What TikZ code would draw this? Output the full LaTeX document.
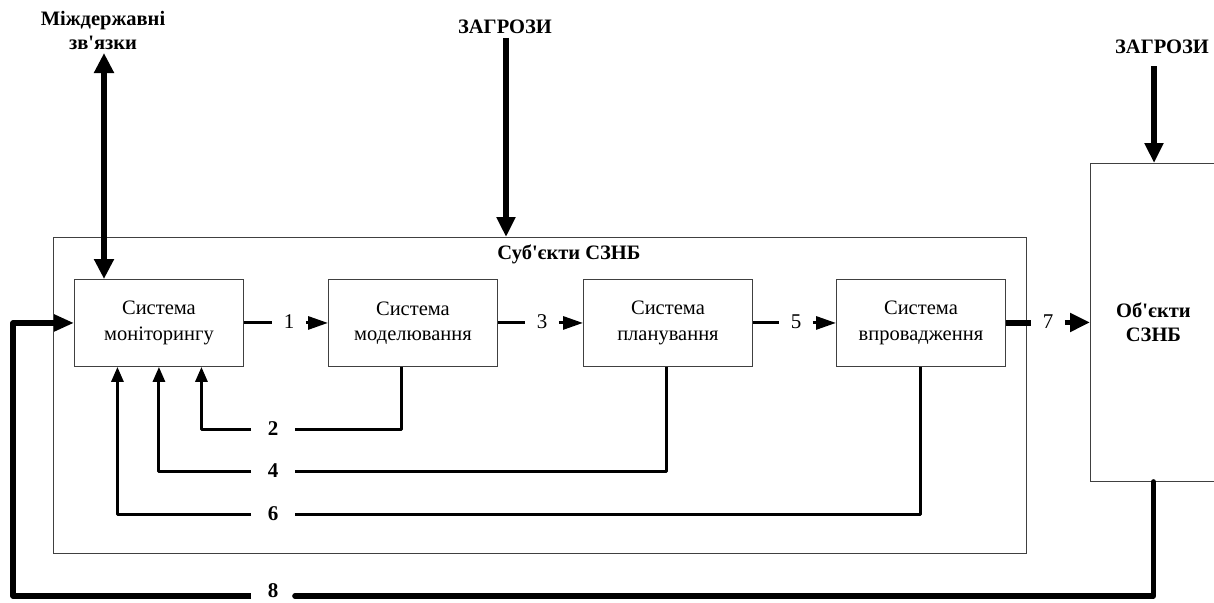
\documentclass[tikz,border=0pt]{standalone}
\usepackage{fontspec}
\setmainfont{Liberation Serif}[Ligatures=TeXOff]
\usetikzlibrary{arrows.meta}
\begin{document}
\begin{tikzpicture}[x=1pt,y=-1pt,
  box/.style={draw=black!75, line width=0.9pt, minimum width=169pt, minimum height=87pt, inner sep=0pt, align=center, font=\fontsize{20.5}{25.5}\selectfont},
  frame/.style={draw=black!75, line width=0.9pt, inner sep=0pt},
  title/.style={font=\fontsize{20.5}{24}\selectfont\bfseries, align=center, inner sep=0pt},
  numlbl/.style={font=\fontsize{21}{24}\selectfont, inner ysep=0pt, inner xsep=11.5pt},
  fblbl/.style={font=\fontsize{21}{24}\selectfont\bfseries, inner ysep=0pt, inner xsep=16.5pt},
  conn/.style={line width=3pt},
  thickc/.style={line width=5.5pt},
  tipA/.style={-{Triangle[length=20pt,width=13pt]}},
  tipB/.style={-{Triangle[length=20pt,width=18pt]}},
  tipC/.style={-{Triangle[length=15pt,width=12pt]}},
  tipE/.style={-{Triangle[length=20pt,width=16pt]}},
]
\useasboundingbox (0,0) rectangle (1214,602);

% outer frame
\node[frame, minimum width=973pt, minimum height=316pt, anchor=north west] (subj) at (53,237) {};
\node[title] (subjt) at (569,254) {Суб'єкти СЗНБ};

% objects
\node[frame, minimum width=126pt, minimum height=318pt, anchor=north west, align=center,
      font=\fontsize{20.5}{24}\selectfont\bfseries] (obj) at (1090,163) {Об'єкти\\СЗНБ};

% inner boxes
\node[box, anchor=north west] (mon)  at (74,279)  {Система\\моніторингу};
\node[box, anchor=north west] (mod)  at (328,279) {Система\\моделювання};
\node[box, anchor=north west] (plan) at (583,279) {Система\\планування};
\node[box, anchor=north west] (impl) at (836,279) {Система\\впровадження};

% titles
\node[title] (z1) at (505,27) {ЗАГРОЗИ};
\node[title] (z2) at (1162,47) {ЗАГРОЗИ};
\node[title] (mz) at (103,30) {Міждержавні\\зв'язки};
\coordinate (z1b) at (506,38);
\coordinate (z2b) at (1154,66);
\coordinate (mzb) at (104,53);

\draw[thickc, tipB] (z1b) -- (z1b |- subj.north);
\draw[thickc, tipB] (z2b) -- (z2b |- obj.north);
\draw[thickc, {Triangle[length=20pt,width=19pt]}-{Triangle[length=20pt,width=19pt]}] (mzb) -- (mzb |- mon.north);

% forward chain
\node[numlbl] (l1) at (289,322) {1};
\node[numlbl] (l3) at (542,322) {3};
\node[numlbl] (l5) at (796,322) {5};
\node[numlbl] (l7) at (1048,322) {7};

\draw[conn] (mon.east) -- (mon.east -| l1.west);
\draw[conn, tipA] (mod.west -| l1.east) -- (mod.west);
\draw[conn] (mod.east) -- (mod.east -| l3.west);
\draw[conn, tipA] (plan.west -| l3.east) -- (plan.west);
\draw[conn] (plan.east) -- (plan.east -| l5.west);
\draw[conn, tipA] (impl.west -| l5.east) -- (impl.west);
\draw[thickc] (impl.east) -- (impl.east -| l7.west);
\draw[thickc, tipB] (obj.west -| l7.east) -- (obj.west);

% feedback
\node[fblbl] (l2) at (273,429) {2};
\node[fblbl] (l4) at (273,471) {4};
\node[fblbl] (l6) at (273,514) {6};
\node[fblbl] (l8) at (273,591) {8};

\draw[conn, line join=round] ([xshift=-11pt]mod.south) |- (l2.east);
\draw[conn, tipC, line join=round] (l2.west) -| ([xshift=42.5pt]mon.south);
\draw[conn, line join=round] ([xshift=-1pt]plan.south) |- (l4.east);
\draw[conn, tipC, line join=round] (l4.west) -| (mon.south);
\draw[conn, line join=round] (impl.south) |- (l6.east);
\draw[conn, tipC, line join=round] (l6.west) -| ([xshift=-41.5pt]mon.south);

\coordinate (b8) at (13,596);
\draw[thickc, line cap=round, line join=round] (obj.south) |- (b8 -| l8.east);
\draw[thickc, tipE, line join=round] (b8 -| l8.west) -- (b8) |- (mon.west);
\end{tikzpicture}
\end{document}
